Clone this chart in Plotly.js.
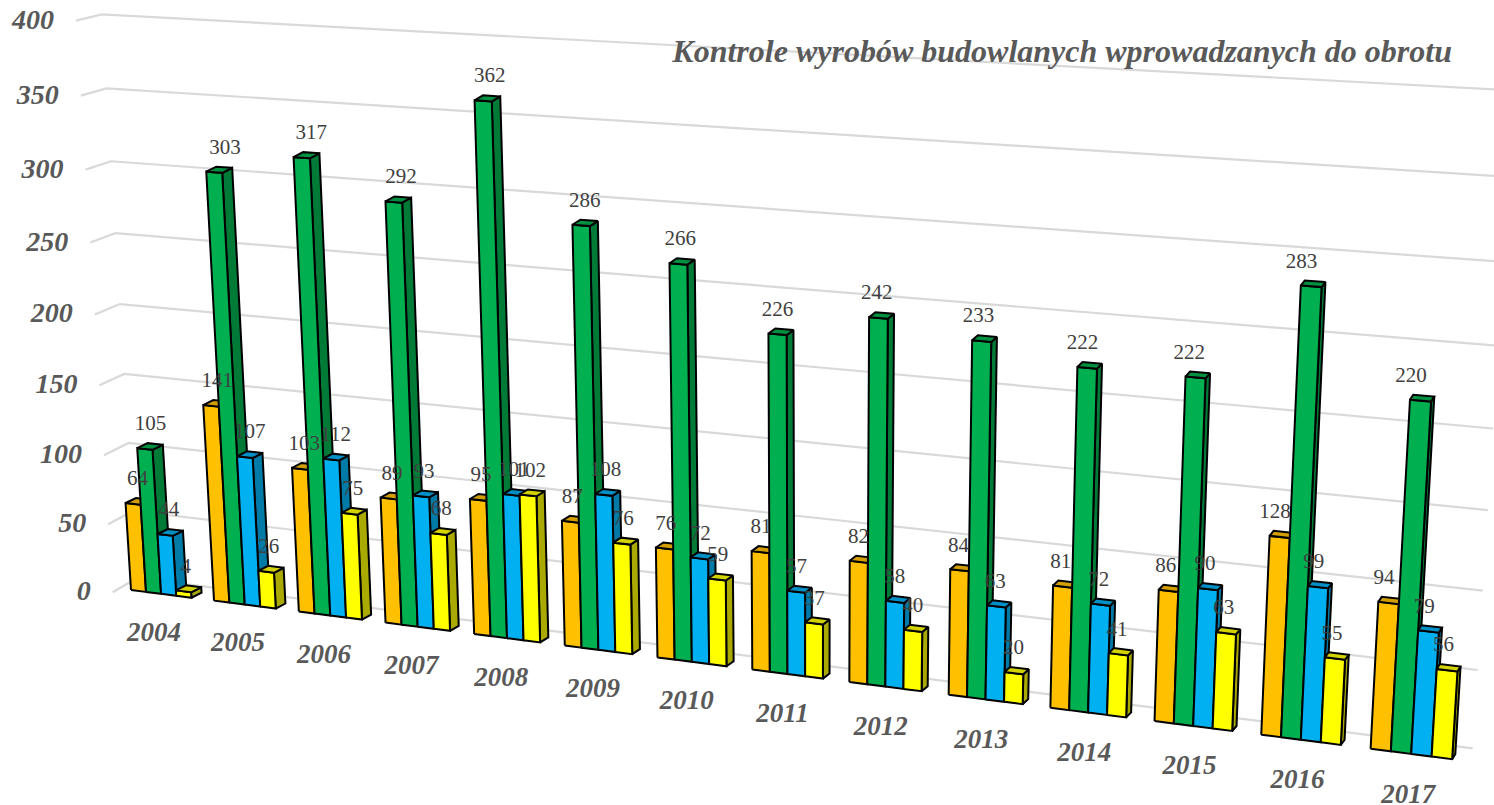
<!DOCTYPE html>
<html><head><meta charset="utf-8">
<script src="https://cdn.plot.ly/plotly-3.0.1.min.js"></script>
<style>html,body{margin:0;padding:0;background:#fff;overflow:hidden}</style>
</head><body><div id="chart" style="width:1494px;height:805px"></div>
<script>
const years=[2004,2005,2006,2007,2008,2009,2010,2011,2012,2013,2014,2015,2016,2017];
const orange=[64,141,103,89,95,87,76,81,82,84,81,86,128,94];
const green=[105,303,317,292,362,286,266,226,242,233,222,222,283,220];
const blue=[44,107,112,93,101,108,72,57,58,63,72,90,99,79];
const yellow=[4,26,75,68,102,76,59,37,40,20,41,63,55,56];
const gridValues=[0,50,100,150,200,250,300,350,400];
const chartTitle='Kontrole wyrobów budowlanych wprowadzanych do obrotu';
const seriesStyles=[
 {values:orange,front:'#FFC000',side:'#B38600',top:'#D29E00'},
 {values:green,front:'#00B050',side:'#007A37',top:'#009040'},
 {values:blue,front:'#00B0F0',side:'#007BA8',top:'#0090C6'},
 {values:yellow,front:'#FFFF00',side:'#A9A900',top:'#D2D200'}
];
// Camera: perspective projection of (category position, value) on the front plane of the columns
const groupWidth=0.73;
const G=-0.0001355,C=-0.01067;
function project(u,z){
  const w=1+C*u+G*z;
  return [(131+80.73*u-0.1019*z-0.0011*u*z)/w,(590+4.22*u-1.4274*z)/w];
}
function depth(x){return [11.2-0.00556*x,-5];}
function wall(x0,bx,y0,my,z){const w=1+G*z;return [(x0+bx*z)/w,(y0+my*z)/w];}

const traces=[];
// gridlines on floor side + back wall
const gx=[],gy=[];
gridValues.forEach(z=>{
  const a=wall(112.7,-0.102,592.3,-1.432,z),b=wall(137,-0.102,578,-1.411,z),c=wall(1472.7,-0.101,748.3,-1.657,z);
  gx.push(a[0],b[0],c[0],null);gy.push(a[1],b[1],c[1],null);
});
traces.push({type:'scatter',mode:'lines',x:gx,y:gy,line:{color:'#D9D9D9',width:2.2},hoverinfo:'skip',showlegend:false});

function poly(arrX,arrY,pts){pts.forEach(p=>{arrX.push(p[0]);arrY.push(p[1]);});arrX.push(pts[0][0],null);arrY.push(pts[0][1],null);}
function faceTrace(px,py,color){return {type:'scatter',mode:'lines',x:px,y:py,fill:'toself',fillcolor:color,line:{color:'#000',width:2,simplify:false},hoverinfo:'skip',showlegend:false};}
const add=(p,d)=>[p[0]+d[0],p[1]+d[1]];
const lx=[],ly=[],lt=[];
seriesStyles.forEach((s,si)=>{
  const fx=[],fy=[],sx=[],sy=[],tx=[],ty=[];
  s.values.forEach((v,i)=>{
    const u0=i+groupWidth*si/4,u1=i+groupWidth*(si+1)/4;
    const b0=project(u0,0),b1=project(u1,0),t0=project(u0,v),t1=project(u1,v);
    const db=depth(b1[0]),dt=depth(t1[0]);
    poly(sx,sy,[b1,add(b1,db),add(t1,dt),t1]);
    poly(fx,fy,[b0,b1,t1,t0]);
    poly(tx,ty,[t0,t1,add(t1,dt),add(t0,dt)]);
    const c=project((u0+u1)/2,v),d=depth(c[0]);
    const cx=c[0]+d[0]/2;
    lx.push(cx-3+(752-cx)*v*5.5e-5);ly.push(c[1]+d[1]-19);lt.push(String(v));
  });
  traces.push(faceTrace(sx,sy,s.side),faceTrace(fx,fy,s.front),faceTrace(tx,ty,s.top));
});
// value labels
traces.push({type:'scatter',mode:'text',x:lx,y:ly,text:lt,textposition:'middle center',
  textfont:{family:'"Liberation Serif",serif',size:21,color:'#404040'},hoverinfo:'skip',showlegend:false,cliponaxis:false});
// value-axis labels
const vx=[],vy=[];
gridValues.forEach(z=>{const a=wall(112.7,-0.102,592.3,-1.432,z);vx.push(a[0]-22);vy.push(a[1]+1);});
traces.push({type:'scatter',mode:'text',x:vx,y:vy,text:gridValues.map(String),textposition:'middle left',
  textfont:{family:'"Liberation Serif",serif',size:28,color:'#595959',weight:'bold',style:'italic'},hoverinfo:'skip',showlegend:false,cliponaxis:false});
// category labels
const cx=[],cy=[];
years.forEach((y,i)=>{const p=project(i+groupWidth/2,0);cx.push(p[0]-7+4*i/13);cy.push(p[1]+40+2*i/13);});
traces.push({type:'scatter',mode:'text',x:cx,y:cy,text:years.map(String),textposition:'middle center',
  textfont:{family:'"Liberation Serif",serif',size:27,color:'#595959',weight:'bold',style:'italic'},hoverinfo:'skip',showlegend:false,cliponaxis:false});

const layout={width:1494,height:805,margin:{l:0,r:0,t:0,b:0},paper_bgcolor:'#fff',plot_bgcolor:'#fff',showlegend:false,
  xaxis:{range:[0,1494],visible:false,fixedrange:true},
  yaxis:{range:[805,0],visible:false,fixedrange:true},
  title:{text:chartTitle,x:1452/1494,xanchor:'right',xref:'paper',y:1-51/805,yanchor:'middle',yref:'paper',
    font:{family:'"Liberation Serif",serif',size:32,color:'#595959',weight:'bold',style:'italic'}}
};
Plotly.newPlot('chart',traces,layout,{displayModeBar:false,staticPlot:true});
</script></body></html>
